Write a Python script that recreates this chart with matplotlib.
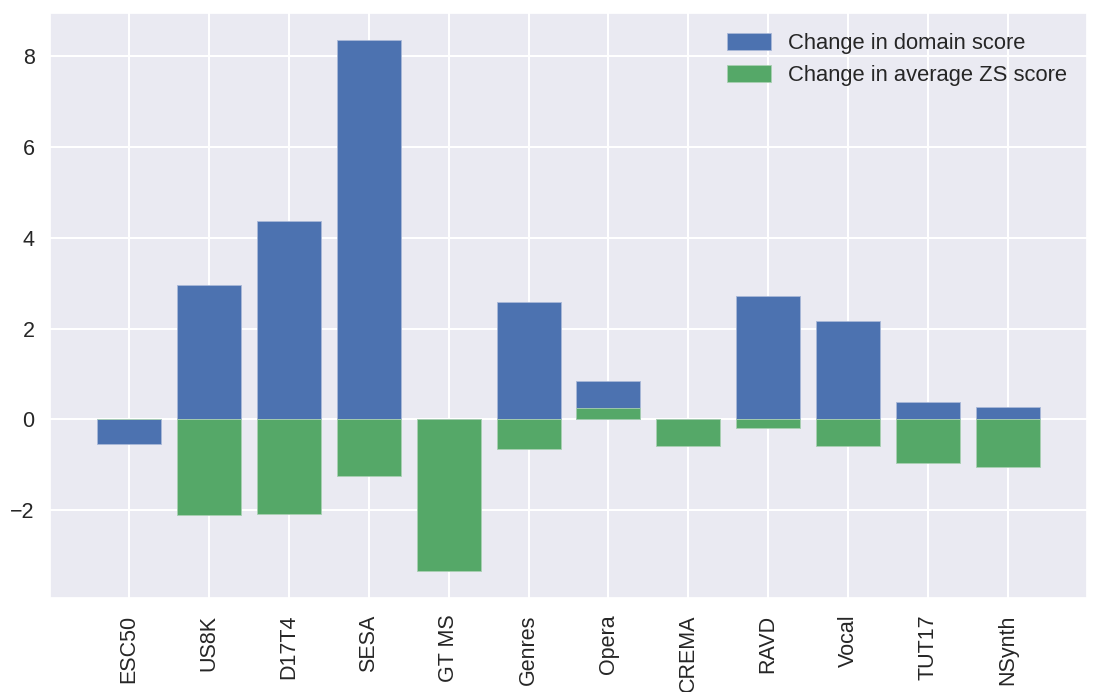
import matplotlib
matplotlib.use("Agg")
import matplotlib.pyplot as plt
import seaborn as sns
import numpy as np

categories = ["ESC50", "US8K", "D17T4", "SESA", "GT MS", "Genres", "Opera",
              "CREMA", "RAVD", "Vocal", "TUT17", "NSynth"]
domain_change = [-0.55, 2.96, 4.37, 8.37, 0.0, 2.59, 0.84, 0.0, 2.71, 2.16, 0.38, 0.28]
zs_change = [0.0, -2.11, -2.09, -1.25, -3.35, -0.66, 0.26, -0.59, -0.20, -0.59, -0.97, -1.04]

sns.set_theme(style="darkgrid")
plt.rcParams['font.family'] = ['Liberation Sans', 'DejaVu Sans']

fig = plt.figure(figsize=(11.03, 6.92), dpi=100)
ax = fig.add_axes([50/1103, 1 - 598/692, (1087-50)/1103, (598-13)/692])

x = np.arange(len(categories))
ax.bar(x, domain_change, width=0.8, color="#4C72B0", edgecolor="#a9b8d8",
       linewidth=0.6, label="Change in domain score")
ax.bar(x, zs_change, width=0.8, color="#55A868", edgecolor="#a9d0b2",
       linewidth=0.6, label="Change in average ZS score")

ax.set_xticks(x)
ax.set_xticklabels(categories, rotation=90, fontsize=15.5)
ax.tick_params(axis='y', labelsize=15.5, pad=5)
ax.tick_params(axis='x', pad=6)
ax.set_yticks([-2, 0, 2, 4, 6, 8])
ax.set_yticklabels(["\u22122", "0", "2", "4", "6", "8"])
ax.grid(True, color="white", linewidth=1.5)

leg = ax.legend(loc="upper right", fontsize=15.8, frameon=False,
                handlelength=2.0, handleheight=0.8)

fig.savefig("out.png", dpi=100)
